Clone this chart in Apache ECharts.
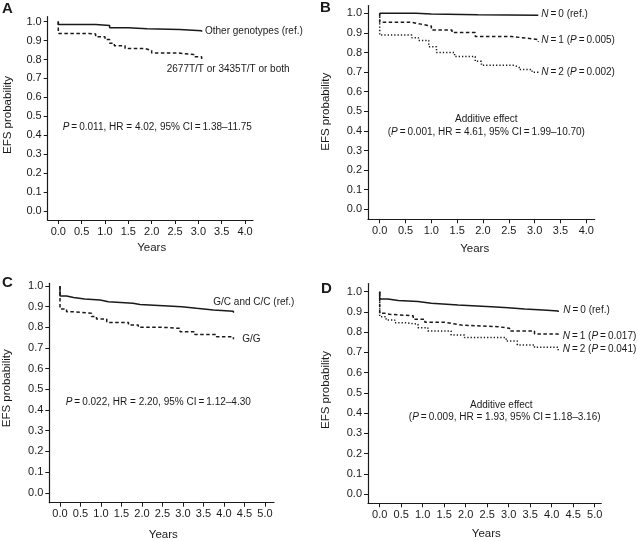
<!DOCTYPE html>
<html>
<head>
<meta charset="utf-8">
<script src="https://cdn.jsdelivr.net/npm/echarts@6/dist/echarts.min.js"></script>
<style>html,body{margin:0;padding:0;background:#fff}#c{width:638px;height:541px}</style>
</head>
<body>
<div id="c"></div>
<script>
// ---- Data (time in years, EFS probability) ----
const xTicks4 = [0.0, 0.5, 1.0, 1.5, 2.0, 2.5, 3.0, 3.5, 4.0];
const xTicks5 = [0.0, 0.5, 1.0, 1.5, 2.0, 2.5, 3.0, 3.5, 4.0, 4.5, 5.0];
const yTicks = [0.0, 0.1, 0.2, 0.3, 0.4, 0.5, 0.6, 0.7, 0.8, 0.9, 1.0];

// Panel A
const aOther = [[0,1],[0,0.985],[0.8,0.979],[1.1,0.968],[1.5,0.963],[1.9,0.958],[2.6,0.952],[3.07,0.947]];
const aTT = [[0,1],[0,0.937],[0.65,0.935],[0.8,0.92],[1.0,0.905],[1.1,0.886],[1.2,0.873],[1.43,0.858],[1.85,0.848],[2.0,0.834],[2.57,0.826],[2.9,0.815],[3.07,0.803]];
// Panel B
const bN0 = [[0,1],[0.7,0.997],[1.0,0.993],[1.9,0.99],[3.07,0.988]];
const bN1 = [[0,1],[0,0.954],[0.62,0.945],[0.8,0.935],[1.0,0.915],[1.4,0.902],[1.85,0.882],[2.55,0.873],[2.85,0.866],[3.07,0.855]];
const bN2 = [[0,1],[0,0.889],[0.62,0.875],[0.75,0.862],[0.95,0.83],[1.1,0.80],[1.45,0.78],[1.85,0.755],[1.97,0.735],[2.6,0.725],[2.7,0.713],[2.95,0.70],[3.07,0.693]];
// Panel C
const cGC = [[0,1],[0,0.952],[0.16,0.944],[0.33,0.937],[0.6,0.932],[0.98,0.924],[1.18,0.916],[1.78,0.91],[1.95,0.905],[2.52,0.90],[2.97,0.892],[3.33,0.884],[3.74,0.878],[4.23,0.871]];
const cGG = [[0,1],[0,0.889],[0.16,0.876],[0.28,0.868],[0.77,0.852],[0.89,0.84],[1.14,0.824],[1.67,0.811],[1.91,0.80],[2.52,0.795],[2.93,0.779],[3.29,0.766],[3.82,0.755],[4.23,0.742]];
// Panel D
const dN0 = [[0,1],[0,0.964],[0.19,0.956],[0.43,0.951],[0.89,0.943],[1.2,0.934],[1.82,0.926],[2.6,0.921],[2.99,0.914],[3.37,0.91],[3.8,0.905],[4.15,0.90]];
const dN1 = [[0,1],[0,0.893],[0.12,0.888],[0.23,0.881],[0.78,0.864],[1.05,0.849],[1.5,0.844],[1.66,0.835],[1.9,0.827],[2.75,0.819],[3.02,0.806],[3.6,0.791],[4.15,0.778]];
const dN2 = [[0,1],[0,0.876],[0.15,0.86],[0.35,0.847],[0.58,0.839],[0.89,0.822],[1.12,0.806],[1.66,0.786],[1.97,0.773],[2.94,0.756],[3.2,0.737],[3.6,0.725],[4.15,0.707]];

// ---- Layout ----
const FONT = '"Liberation Sans", Arial, sans-serif';
const INK = '#1a1a1a';
const panels = [
  {grid:{left:47.7, top:16.7, width:205.3, height:203.3}, x:[-0.227,4.17], y:[-0.0475,1.026], xt:xTicks4},
  {grid:{left:368, top:5.5, width:226.7, height:213.8}, x:[-0.2265,4.163], y:[-0.051,1.04], xt:xTicks4},
  {grid:{left:49.3, top:283.3, width:224.7, height:219.4}, x:[-0.261,5.22], y:[-0.048,1.013], xt:xTicks5},
  {grid:{left:368, top:283.6, width:233.3, height:219.7}, x:[-0.272,5.153], y:[-0.046,1.04], xt:xTicks5}
];

const SOLID = 'solid', DASH = [3.5,2.5], DOT = [1.3,2];
const curves = [
  [0,aOther,SOLID],[0,aTT,DASH],
  [1,bN0,SOLID],[1,bN1,DASH],[1,bN2,DOT],
  [2,cGC,SOLID],[2,cGG,DASH],
  [3,dN0,SOLID],[3,dN1,DASH],[3,dN2,DOT]
];

const axisCommon = {
  axisLine:{show:true, onZero:false, lineStyle:{color:INK, width:1.2}},
  axisTick:{show:true, length:4, lineStyle:{color:INK, width:1}},
  splitLine:{show:false},
  axisLabel:{color:INK, fontFamily:FONT, fontSize:11, margin:6, formatter:v=>Number(v).toFixed(1)}
};

const xAxis = panels.map((p,i)=>({
  type:'value', gridIndex:i, min:p.x[0], max:p.x[1],
  axisLine:axisCommon.axisLine, splitLine:axisCommon.splitLine,
  axisTick:Object.assign({customValues:p.xt}, axisCommon.axisTick),
  axisLabel:Object.assign({customValues:p.xt}, axisCommon.axisLabel)
}));
const yAxis = panels.map((p,i)=>({
  type:'value', gridIndex:i, min:p.y[0], max:p.y[1],
  axisLine:axisCommon.axisLine, splitLine:axisCommon.splitLine,
  axisTick:Object.assign({customValues:yTicks}, axisCommon.axisTick),
  axisLabel:Object.assign({customValues:yTicks}, axisCommon.axisLabel)
}));

const series = curves.map(([g,data,dash])=>({
  type:'line', xAxisIndex:g, yAxisIndex:g, data:data, step:'end', symbol:'none',
  silent:true, animation:false,
  lineStyle:{color:INK, width:1.5, type:dash}
}));

const AS = 10;
const rich = {i:{fontStyle:'italic', fontFamily:FONT, fontSize:AS, fill:INK, color:INK}};
function txt(x,y,text,opts){
  opts = opts||{};
  return {type:'text', x:x, y:y, rotation:opts.rot||0, silent:true,
    style:{text:text, fill:INK, font:(opts.bold?'bold ':'')+(opts.size||AS)+'px '+FONT,
      align:opts.align||'left', verticalAlign:'middle', rich:rich}};
}
const T = '\u2009';
const graphics = [
  txt(2,9,'A',{bold:true,size:15}), txt(320,8,'B',{bold:true,size:15}),
  txt(2,283,'C',{bold:true,size:15}), txt(321,289,'D',{bold:true,size:15}),
  // axis titles
  txt(151.7,248,'Years',{align:'center',size:11.5}),
  txt(474.7,249.3,'Years',{align:'center',size:11.5}),
  txt(163.3,535,'Years',{align:'center',size:11.5}),
  txt(486.3,534.3,'Years',{align:'center',size:11.5}),
  txt(8.3,115,'EFS probability',{align:'center',size:11.5,rot:Math.PI/2}),
  txt(326.3,111.7,'EFS probability',{align:'center',size:11.5,rot:Math.PI/2}),
  txt(7.3,388.3,'EFS probability',{align:'center',size:11.5,rot:Math.PI/2}),
  txt(326.3,390,'EFS probability',{align:'center',size:11.5,rot:Math.PI/2}),
  // Panel A
  txt(205,31.7,'Other genotypes (ref.)'),
  txt(166.7,69.3,'2677T/T or 3435T/T or both'),
  txt(62.7,127.7,'{i|P}'+T+'='+T+'0.011, HR = 4.02, 95% CI'+T+'='+T+'1.38\u201311.75'),
  // Panel B
  txt(541.3,14.3,'{i|N}'+T+'='+T+'0 (ref.)'),
  txt(541.3,40.7,'{i|N}'+T+'='+T+'1 ({i|P}'+T+'='+T+'0.005)'),
  txt(541.3,72.7,'{i|N}'+T+'='+T+'2 ({i|P}'+T+'='+T+'0.002)'),
  txt(486.3,119.3,'Additive effect',{align:'center'}),
  txt(486.3,132.7,'({i|P}'+T+'='+T+'0.001, HR = 4.61, 95% CI'+T+'='+T+'1.99\u201310.70)',{align:'center'}),
  // Panel C
  txt(213.3,302.7,'G/C and C/C (ref.)'),
  txt(242.3,339,'G/G'),
  txt(65.7,402.3,'{i|P}'+T+'='+T+'0.022, HR = 2.20, 95% CI'+T+'='+T+'1.12\u20134.30'),
  // Panel D
  txt(563.3,310,'{i|N}'+T+'='+T+'0 (ref.)'),
  txt(562.7,336.7,'{i|N}'+T+'='+T+'1 ({i|P}'+T+'='+T+'0.017)'),
  txt(562.7,349.5,'{i|N}'+T+'='+T+'2 ({i|P}'+T+'='+T+'0.041)'),
  txt(501.3,405,'Additive effect',{align:'center'}),
  txt(504.7,417.7,'({i|P}'+T+'='+T+'0.009, HR = 1.93, 95% CI'+T+'='+T+'1.18\u20133.16)',{align:'center'})
];

const chart = echarts.init(document.getElementById('c'), null, {renderer:'canvas'});
chart.setOption({
  animation:false,
  backgroundColor:'#fff',
  grid: panels.map(p=>Object.assign({containLabel:false}, p.grid)),
  xAxis: xAxis, yAxis: yAxis, series: series, graphic: graphics
});
</script>
</body>
</html>
